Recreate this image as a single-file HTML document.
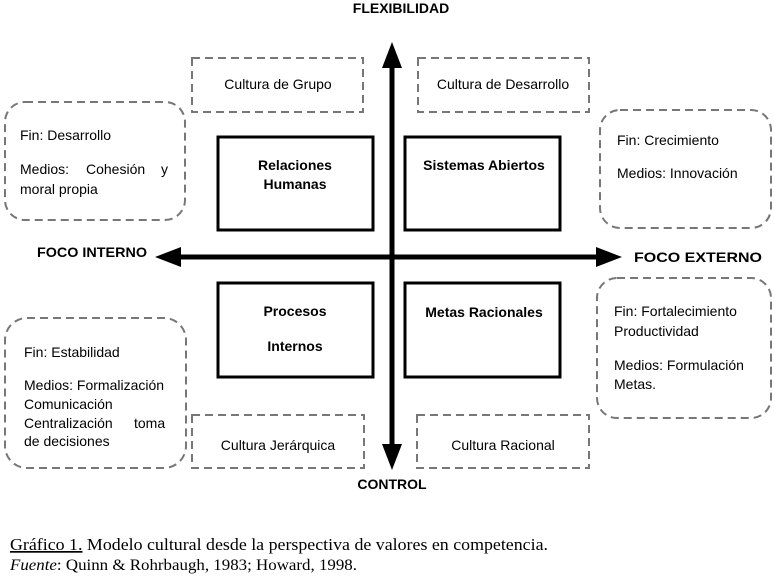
<!DOCTYPE html>
<html><head><meta charset="utf-8"><style>
html,body{margin:0;padding:0;background:#fff;width:774px;height:576px;overflow:hidden}
svg{display:block}
.s{font-family:"Liberation Sans",sans-serif;font-size:14px;fill:#000}
.b{font-family:"Liberation Sans",sans-serif;font-size:14px;font-weight:bold;fill:#000}
.d{fill:none;stroke:#777;stroke-width:2;stroke-dasharray:8,5}
.r{fill:#fff;stroke:#000;stroke-width:3}
</style></head><body>
<svg width="774" height="576" xmlns="http://www.w3.org/2000/svg">
<text class="b" x="401" y="13" text-anchor="middle">FLEXIBILIDAD</text>
<text class="b" x="392" y="489" text-anchor="middle">CONTROL</text>
<text class="b" x="37" y="257" textLength="110" lengthAdjust="spacingAndGlyphs">FOCO INTERNO</text>
<text class="b" x="634" y="262" textLength="128" lengthAdjust="spacingAndGlyphs">FOCO EXTERNO</text>

<rect class="d" x="192" y="58" width="171" height="54"/>
<text class="s" x="278" y="89" text-anchor="middle">Cultura de Grupo</text>
<rect class="d" x="418" y="58" width="171" height="54"/>
<text class="s" x="503" y="89" text-anchor="middle">Cultura de Desarrollo</text>
<rect class="d" x="192" y="415" width="172" height="53"/>
<text class="s" x="278" y="450" text-anchor="middle">Cultura Jerárquica</text>
<rect class="d" x="417" y="415" width="172" height="53"/>
<text class="s" x="503" y="450" text-anchor="middle">Cultura Racional</text>

<rect class="d" x="5" y="102" width="180" height="118" rx="20"/>
<text class="s" x="20" y="140">Fin: Desarrollo</text>
<text class="s" x="20" y="174">Medios:</text><text class="s" x="86" y="174">Cohesión</text><text class="s" x="161" y="174">y</text>
<text class="s" x="20" y="194">moral propia</text>

<rect class="d" x="600" y="110" width="171" height="118" rx="20"/>
<text class="s" x="617" y="145">Fin: Crecimiento</text>
<text class="s" x="617" y="178">Medios: Innovación</text>

<rect class="d" x="5" y="318" width="181" height="150" rx="22"/>
<text class="s" x="24" y="357">Fin: Estabilidad</text>
<text class="s" x="24" y="390">Medios: Formalización</text>
<text class="s" x="24" y="409">Comunicación</text>
<text class="s" x="24" y="428">Centralización</text><text class="s" x="134" y="428">toma</text>
<text class="s" x="24" y="446">de decisiones</text>

<rect class="d" x="597" y="278" width="174" height="140" rx="20"/>
<text class="s" x="614" y="316">Fin: Fortalecimiento</text>
<text class="s" x="614" y="336">Productividad</text>
<text class="s" x="614" y="370">Medios: Formulación</text>
<text class="s" x="614" y="389">Metas.</text>

<rect class="r" x="218" y="137" width="155" height="93"/>
<text class="b" x="295" y="170" text-anchor="middle">Relaciones</text>
<text class="b" x="295" y="189" text-anchor="middle">Humanas</text>
<rect class="r" x="405" y="137" width="155" height="93"/>
<text class="b" x="484" y="170" text-anchor="middle">Sistemas Abiertos</text>
<rect class="r" x="218" y="283" width="155" height="94"/>
<text class="b" x="295" y="316" text-anchor="middle">Procesos</text>
<text class="b" x="295" y="351" text-anchor="middle">Internos</text>
<rect class="r" x="405" y="283" width="155" height="94"/>
<text class="b" x="484" y="317" text-anchor="middle">Metas Racionales</text>

<line x1="392" y1="60" x2="392" y2="450" stroke="#000" stroke-width="5"/>
<polygon points="392,42 382,68 402,68" fill="#000"/>
<polygon points="392,470 382,444 402,444" fill="#000"/>
<line x1="172" y1="257" x2="605" y2="257" stroke="#000" stroke-width="5"/>
<polygon points="155,257 181,247 181,267" fill="#000"/>
<polygon points="622,257 596,247 596,267" fill="#000"/>

<text x="10" y="550" font-family="Liberation Serif,serif" font-size="17" textLength="538" lengthAdjust="spacingAndGlyphs"><tspan text-decoration="underline">Gráfico 1.</tspan> Modelo cultural desde la perspectiva de valores en competencia.</text>
<text x="10" y="570" font-family="Liberation Serif,serif" font-size="15.5" textLength="347" lengthAdjust="spacingAndGlyphs"><tspan font-style="italic">Fuente</tspan>: Quinn &amp; Rohrbaugh, 1983; Howard, 1998.</text>
</svg>
</body></html>
